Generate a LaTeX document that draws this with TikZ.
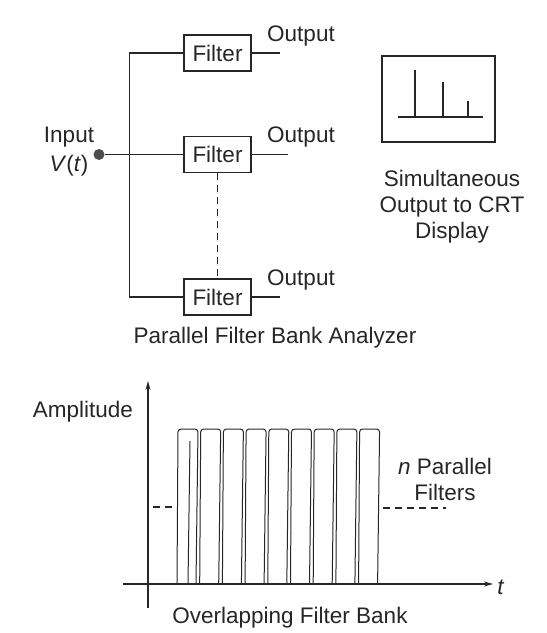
\documentclass[tikz,border=0pt]{standalone}
\usepackage{fontspec}
\setmainfont{Liberation Sans}
\usetikzlibrary{arrows.meta}

\begin{document}
\begin{tikzpicture}[x=1pt,y=-1pt,line width=1.3pt,>={Stealth[length=9pt,width=5pt]},
  every node/.style={font=\fontsize{22.5}{26}\selectfont,text=black!85},
  filterbox/.style={draw,minimum width=67pt,minimum height=36pt,inner sep=0pt},
  gap/.style={dash pattern=on 7pt off 5pt}]
  \useasboundingbox (0,0) rectangle (547,633);
  \draw[black!85]
  % parallel filter bank
  node[filterbox] (f1) at (217.5,53){Filter}
  node[filterbox] (f2) at (217.5,154.5){Filter}
  node[filterbox] (f3) at (217.5,297){Filter}
  node[circle,fill=black!70,inner sep=0pt,minimum size=11pt] (in) at (99,154.5){};
  \draw[black!85] (in) -- (f2.west);
  \draw[black!85] (f1.west) -- ++(-54,0) |- (f3.west);
  \draw[black!85,gap] (f2.south) -- (f3.north);
  \coordinate (o1) at (280,53);
  \coordinate (o2) at (288,154.5);
  \coordinate (o3) at (280,297);
  \draw[black!85] (f1.east) -- (o1);
  \draw[black!85] (f2.east) -- (o2);
  \draw[black!85] (f3.east) -- (o3);
  \node (l1) at (301,36){Output};
  \node (l2) at (301,137){Output};
  \node (l3) at (301,280){Output};
  \node (inl) at (69,137){Input};
  \node (vt) at (69,166){\textit{V}(\textit{t})};
  \node (cap1) at (275,338){Parallel Filter Bank Analyzer};
  % CRT display
  \node[draw=black!85,minimum width=113pt,minimum height=86pt,inner sep=0pt] (crt) at (438.5,99){};
  \draw[black!85] (398,117) -- (483,117);
  \draw[black!85] (415,117) -- (415,70);
  \draw[black!85] (443,117) -- (443,82);
  \draw[black!85] (468,117) -- (468,101);
  \node[align=center] (crtl) at (452,207){Simultaneous\\Output to CRT\\Display};
  % overlapping filter bank
  \draw[black!85,->] (148,608) -- (148,381);
  \draw[black!85,->] (123,584) -- (493,584);
  \node (tl) at (501,587){\textit{t}};
  \node (amp) at (83,412){Amplitude};
  \foreach \i in {0,...,8}{
    \pgfmathsetmacro{\l}{178+22.7*\i}
    \draw[black!85,line width=1pt,rounded corners=3pt] (\l-1,584) -- (\l,429) -- (\l+20,429) -- (\l+18,584);
  }
  \draw[black!85,line width=1pt] (190,441) -- (188,584);
  \draw[black!85,gap] (153,507) -- (178,507);
  \draw[black!85,gap] (383,508) -- (446,508);
  \node[align=center] (nl) at (445,479){\textit{n} Parallel\\Filters};
  \node (cap2) at (290,618){Overlapping Filter Bank};
\end{tikzpicture}
\end{document}
